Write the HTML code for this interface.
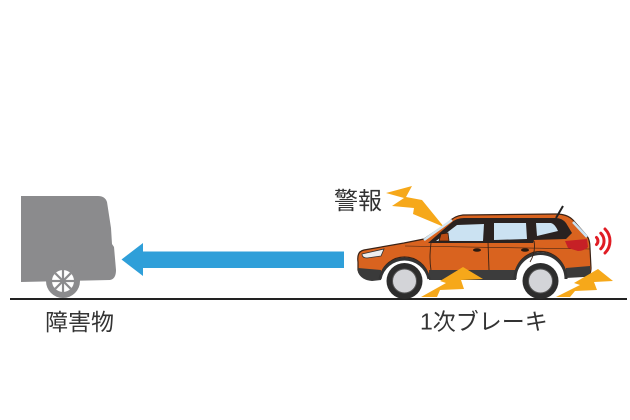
<!DOCTYPE html>
<html>
<head>
<meta charset="utf-8">
<style>
  html,body{margin:0;padding:0;background:#ffffff;}
  body{width:630px;height:420px;overflow:hidden;}
  svg{display:block;}
  .lbl{font-family:"Liberation Sans","Noto Sans CJK JP",sans-serif;fill:#333333;}
</style>
</head>
<body>
<svg width="630" height="420" viewBox="0 0 630 420" xmlns="http://www.w3.org/2000/svg">
  <rect width="630" height="420" fill="#ffffff"/>

  <!-- Obstacle (gray vehicle rear) -->
  <path d="M21,196 L98,196 Q105,196 107,202 L111,228 L112,244 L114,247 L116,270 Q116,279 110,280 L21,282 Z" fill="#8b8b8d"/>
  <circle cx="63" cy="281" r="17" fill="#8b8b8d"/>
  <circle cx="63" cy="281" r="11" fill="#ffffff"/>
  <g stroke="#8b8b8d" stroke-width="2.2">
    <line x1="63" y1="281" x2="74" y2="281"/>
    <line x1="63" y1="281" x2="52" y2="281"/>
    <line x1="63" y1="281" x2="63" y2="270"/>
    <line x1="63" y1="281" x2="63" y2="292"/>
    <line x1="63" y1="281" x2="70.8" y2="273.2"/>
    <line x1="63" y1="281" x2="55.2" y2="288.8"/>
    <line x1="63" y1="281" x2="70.8" y2="288.8"/>
    <line x1="63" y1="281" x2="55.2" y2="273.2"/>
  </g>
  <circle cx="63" cy="281" r="2.5" fill="#8b8b8d"/>

  <!-- Blue arrow -->
  <polygon points="121.5,259.5 143,243 143,251.5 344,251.5 344,268 143,268 143,276" fill="#2f9fd9"/>

  <!-- Ground line -->
  <line x1="10" y1="299" x2="627" y2="299" stroke="#222222" stroke-width="2"/>

  <!-- Top lightning bolt (warning) -->
  <polygon points="386,193 412,186 406,197 422,200 444,227 413,214 414,208 392,206 404,198" fill="#f6a81a"/>

  <!-- Car body -->
  <path d="M358,262 C357,255 359,251 364,250 L404,243 L424,239 L449,222 Q454,216 463,215 L556,214 Q567,214 573,220 L587,236 Q590,240 590,248 L591,268 Q591,276 585,276 L566,277 A25,25 0 0 0 515,277 L429,277 A25,25 0 0 0 380,277 L372,279 Q360,279 358,270 Z" fill="#d9631f" stroke="#3a2215" stroke-width="1.2"/>

  <!-- Lower dark cladding -->
  <path d="M429,270 L516,270 L516,280 L429,280 Z" fill="#3c3c3c"/>
  <path d="M358,268 L381,270 L381,280 L372,281 Q361,280 358,272 Z" fill="#3a3a3a"/>
  <path d="M566,268 L590,266 L590,274 Q589,277 584,277 L566,278 Z" fill="#3a3a3a"/>
  <path d="M429,279 A25,25 0 0 0 380,279" fill="none" stroke="#333" stroke-width="3"/>
  <path d="M566,279 A25,25 0 0 0 515,279" fill="none" stroke="#333" stroke-width="3"/>

  <!-- Greenhouse -->
  <path d="M428,243 L451,223 Q456,218 464,218 L556,218 Q562,218 566,223 L572,233 L566,239 L534,240 L533,243 Z" fill="#2a2220"/>
  <line x1="424" y1="240" x2="452" y2="220" stroke="#d2e6f2" stroke-width="2.5"/>
  <path d="M436,241 L457,225 L484,224 L483,241 Z" fill="#cbe2f2"/>
  <path d="M494,223 L526,223 L527,239 L494,240 Z" fill="#cbe2f2"/>
  <path d="M536,223 L551,223 Q555,224 558,231 L537,236 Z" fill="#cbe2f2"/>
  <line x1="573" y1="222" x2="587" y2="237" stroke="#cbe2f2" stroke-width="2.5"/>

  <!-- Body lines -->
  <path d="M431,243 Q429,258 431,270" fill="none" stroke="#3a2215" stroke-width="0.9"/>
  <path d="M488,242 L489,270" fill="none" stroke="#3a2215" stroke-width="0.9"/>
  <path d="M534,241 Q536,252 530,262" fill="none" stroke="#3a2215" stroke-width="0.9"/>
  <path d="M405,246 L590,249" fill="none" stroke="#3a2215" stroke-width="0.6"/>

  <!-- Mirror -->
  <path d="M439,241 L441,234 L448,233 L449,241 Z" fill="#b94c15" stroke="#2a1a10" stroke-width="0.8"/>

  <!-- Door handles -->
  <ellipse cx="477" cy="250" rx="4" ry="1.8" fill="#2a1a10"/>
  <ellipse cx="525" cy="250" rx="4" ry="1.8" fill="#2a1a10"/>

  <!-- Headlight -->
  <path d="M362,254 L384,249 L381,256 L367,258 Q362,258 362,254 Z" fill="#eeeeee" stroke="#333" stroke-width="0.8"/>

  <!-- Tail light -->
  <path d="M565,241 L587,239 L588,247 Q584,251 578,251 L568,248 Z" fill="#c62026"/>

  <!-- Antenna -->
  <line x1="556" y1="218" x2="563" y2="206" stroke="#222" stroke-width="2"/>

  <!-- Wheels -->
  <circle cx="404.5" cy="281" r="18" fill="#2d2d2d"/>
  <circle cx="404.5" cy="281" r="12" fill="#d3d4d8" stroke="#555" stroke-width="1"/>
  <circle cx="540.5" cy="281" r="18" fill="#2d2d2d"/>
  <circle cx="540.5" cy="281" r="12" fill="#d3d4d8" stroke="#555" stroke-width="1"/>

  <!-- Bottom lightning bolts -->
  <polygon points="463,267 483,279 461,280 464,289 440,290 437,297 421,297 446,283 440,281" fill="#f6a81a"/>
  <polygon points="598,269 613,281 594,282 597,290 575,291 570,297 556,297 580,285 574,283" fill="#f6a81a"/>

  <!-- Red sound arcs -->
  <g fill="none" stroke="#e01c24" stroke-width="3" stroke-linecap="round">
    <path d="M596.5,237.5 A5,5 0 0 1 596.5,244.5"/>
    <path d="M600.8,233.2 A11,11 0 0 1 600.8,248.8"/>
    <path d="M605,229 A17,17 0 0 1 605,253"/>
  </g>

  <!-- Labels -->
  <text class="lbl" x="334" y="209" font-size="24">警報</text>
  <text class="lbl" x="45" y="330" font-size="23">障害物</text>
  <text class="lbl" x="420" y="329.5" font-size="23">1次ブレーキ</text>
</svg>
</body>
</html>
